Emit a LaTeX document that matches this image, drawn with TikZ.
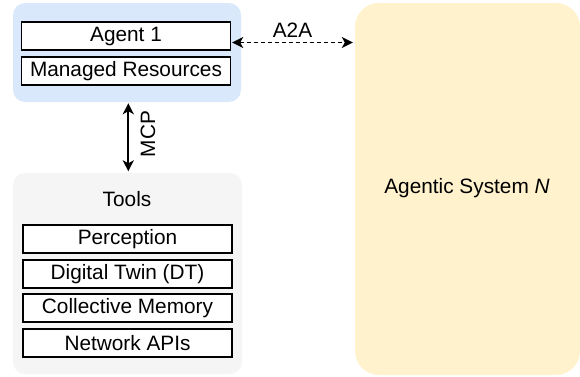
\documentclass[tikz,border=0pt]{standalone}
\usepackage{fontspec}
\setmainfont{Liberation Sans}
\usetikzlibrary{arrows.meta}
\definecolor{bluefill}{HTML}{DAE8FC}
\definecolor{grayfill}{HTML}{F5F5F5}
\definecolor{yellowfill}{HTML}{FFF2CC}
\begin{document}
\begin{tikzpicture}[x=1pt,y=-1pt,
  every node/.style={font=\fontsize{20.8}{24}\selectfont, text=black},
  group/.style={rounded corners=12pt, inner sep=0pt, draw=none},
  item/.style={draw=black, line width=1.4pt, fill=white, inner sep=0pt, minimum width=209pt, minimum height=28pt},
  link/.style={line width=1.8pt, {Stealth[length=11pt,width=11pt,inset=3pt]}-{Stealth[length=11pt,width=11pt,inset=3pt]}}
]
\useasboundingbox (0,0) rectangle (580,376);
% groups
\node[group, fill=bluefill, minimum width=228pt, minimum height=99pt] (agentgrp) at (127,52.5) {};
\node[group, fill=grayfill, minimum width=229pt, minimum height=201pt] (toolsgrp) at (127.5,273.5) {};
\node[group, fill=yellowfill, rounded corners=24pt, minimum width=225pt, minimum height=372pt] (sysN) at (467.5,189) {};
\node at (467,188) {Agentic System \textit{N}};
% agent items
\node[item] (agent) at (126,36) {Agent 1};
\node[item] (mres) at (126,71) {Managed Resources};
% tools
\node (toolslbl) at (127,199) {Tools};
\node[item] (perc) at (127.5,239) {Perception};
\node[item] (dt) at (127.5,274) {Digital Twin (DT)};
\node[item] (cm) at (127.5,308) {Collective Memory};
\node[item] (napi) at (127.5,343) {Network APIs};
% connectors
\coordinate (a2ay) at (0,42.5);
\coordinate (a2aL) at (agent.east |- a2ay);
\coordinate (a2aR) at (sysN.west |- a2ay);
\draw[link, dash pattern=on 4pt off 3pt] ([xshift=1pt]a2aL) -- node[above=1pt] (a2albl) {A2A} ([xshift=-2pt]a2aR);
\coordinate (mcpx) at (128.3,0);
\coordinate (mcpT) at (mcpx |- agentgrp.south);
\coordinate (mcpB) at (mcpx |- toolsgrp.north);
\draw[link] ([yshift=-1pt]mcpT) -- ([yshift=1.5pt]mcpB);
\node[rotate=90] (mcplbl) at (148,134) {MCP};
\end{tikzpicture}
\end{document}
